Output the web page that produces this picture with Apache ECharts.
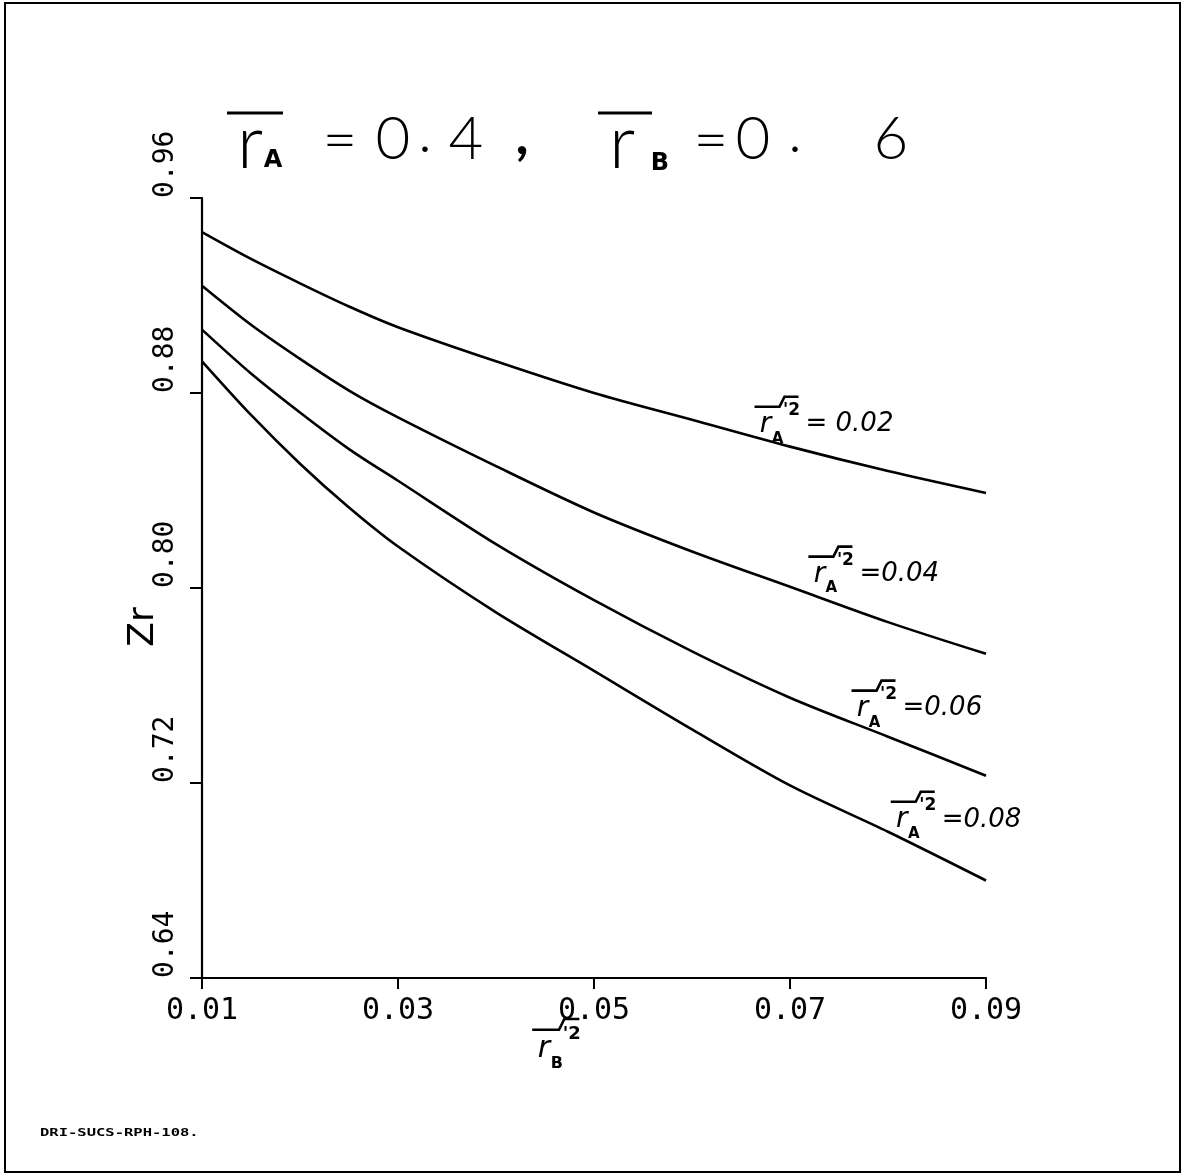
<!DOCTYPE html>
<html>
<head>
<meta charset="utf-8">
<script src="https://cdn.jsdelivr.net/npm/echarts@6/dist/echarts.min.js"></script>
<style>
  html, body { margin: 0; padding: 0; background: #fff; }
  #chart { width: 1185px; height: 1176px; }
</style>
</head>
<body>
<div id="chart"></div>
<script>
// mean-square fluctuation of phase B, r'_B^2 (x axis)
const rB2 = [0.01, 0.015, 0.02, 0.025, 0.03, 0.04, 0.05, 0.06, 0.07, 0.08, 0.09];

// Zr for each value of mean-square fluctuation of phase A
const zrA002 = [0.946, 0.935, 0.925, 0.9155, 0.907, 0.893, 0.880, 0.869, 0.858, 0.848, 0.839];
const zrA004 = [0.924, 0.908, 0.894, 0.881, 0.870, 0.850, 0.831, 0.815, 0.8005, 0.786, 0.773];
const zrA006 = [0.906, 0.888, 0.872, 0.857, 0.844, 0.818, 0.795, 0.774, 0.755, 0.739, 0.723];
const zrA008 = [0.893, 0.871, 0.851, 0.833, 0.817, 0.790, 0.766, 0.742, 0.719, 0.700, 0.680];

const curveValues = ['0.02', '0.04', '0.06', '0.08'];
const curveTexts = ['= 0.02', '=0.04', '=0.06', '=0.08'];

const xTicks = [0.01, 0.03, 0.05, 0.07, 0.09];
const yTicks = [0.64, 0.72, 0.80, 0.88, 0.96];

// where each curve label sits, in data coordinates (centre of the "r")
const labelAnchors = [[0.0675, 0.867], [0.0730, 0.8055], [0.0774, 0.7505], [0.0814, 0.7049]];

const chart = echarts.init(document.getElementById('chart'));

function toPairs(ys) { return rB2.map((x, i) => [x, ys[i]]); }

const lineStyle = { color: '#000', width: 2.6 };
const seriesData = [zrA002, zrA004, zrA006, zrA008];

chart.setOption({
  animation: false,
  backgroundColor: '#fff',
  grid: { left: 202, right: 199, top: 198, bottom: 198, containLabel: false },
  xAxis: {
    type: 'value', min: 0.01, max: 0.09,
    axisLine: { show: true, lineStyle: { color: '#000', width: 2.2 } },
    axisTick: { show: true, customValues: xTicks, length: 11, lineStyle: { color: '#000', width: 2 } },
    axisLabel: {
      customValues: xTicks, formatter: v => v.toFixed(2),
      fontFamily: 'DejaVu Sans Mono', fontSize: 30, color: '#000', margin: 18
    },
    splitLine: { show: false }
  },
  yAxis: {
    type: 'value', min: 0.64, max: 0.96,
    name: 'Zr', nameLocation: 'middle', nameRotate: 90, nameGap: 40,
    nameMoveOverlap: false,
    nameTextStyle: {
      color: '#000', fontFamily: 'DejaVu Sans', fontSize: 36, padding: [0, 78, 0, 0]
    },
    axisLine: { show: true, lineStyle: { color: '#000', width: 2.2 } },
    axisTick: { show: true, customValues: yTicks, length: 12, lineStyle: { color: '#000', width: 2 } },
    axisLabel: {
      customValues: yTicks, formatter: v => v.toFixed(2),
      rotate: 90, align: 'left', verticalAlign: 'middle',
      fontFamily: 'DejaVu Sans Mono', fontSize: 28, color: '#000', margin: 36
    },
    splitLine: { show: false }
  },
  series: seriesData.map((ys, i) => ({
    name: curveValues[i],
    type: 'line',
    data: toPairs(ys),
    smooth: 0.3,
    showSymbol: false,
    lineStyle: lineStyle
  }))
});

// r-bar notation: overline on r, a root stroke, and the '2 superscript
function rmsSymbol(cx, cy, sub, size) {
  const s = size / 28;
  return [
    { type: 'text', x: cx, y: cy, style: { text: 'r', font: 'italic ' + Math.round(28 * s) + 'px "DejaVu Sans"', fill: '#000', align: 'center', verticalAlign: 'middle' } },
    { type: 'text', x: cx + 12 * s, y: cy + 14 * s, style: { text: sub, font: 'bold ' + Math.round(15 * s) + 'px "DejaVu Sans"', fill: '#000', align: 'center', verticalAlign: 'middle' } },
    { type: 'polyline', shape: { points: [[cx - 11 * s, cy - 18 * s], [cx + 14 * s, cy - 18 * s], [cx + 19 * s, cy - 28 * s], [cx + 33 * s, cy - 28 * s]] }, style: { stroke: '#000', lineWidth: 2.6, fill: null } },
    { type: 'text', x: cx + 26 * s, y: cy - 14 * s, style: { text: "'2", font: 'bold ' + Math.round(17 * s) + 'px "DejaVu Sans"', fill: '#000', align: 'center', verticalAlign: 'middle' } }
  ];
}

function drawDecorations() {
  const g = [];
  // outer frame
  g.push({ type: 'rect', shape: { x: 5, y: 3, width: 1175, height: 1169 }, style: { fill: null, stroke: '#000', lineWidth: 2 }, z: 10 });

  // title: r̄A = 0.4,  r̄B = 0.6
  const big = '300 60px Lato, "DejaVu Sans"';
  const tt = (t, x, y, font) => ({ type: 'text', x, y, style: { text: t, font, fill: '#000', align: 'center', verticalAlign: 'middle' } });
  g.push({ type: 'line', shape: { x1: 227, y1: 113, x2: 283, y2: 113 }, style: { stroke: '#000', lineWidth: 3 } });
  g.push(tt('r', 250, 144, '300 74px Lato, "DejaVu Sans"'));
  g.push(tt('A', 273, 161, 'bold 24px "DejaVu Sans"'));
  g.push(tt('=', 340, 141, big));
  g.push(tt('0', 393, 140, big));
  g.push(tt('.', 425, 133, big));
  g.push(tt('4', 466, 140, big));
  g.push(tt(',', 522, 136, 'bold 56px Lato, "DejaVu Sans"'));
  g.push({ type: 'line', shape: { x1: 598, y1: 113, x2: 652, y2: 113 }, style: { stroke: '#000', lineWidth: 3 } });
  g.push(tt('r', 622, 144, '300 74px Lato, "DejaVu Sans"'));
  g.push(tt('B', 660, 164, 'bold 24px "DejaVu Sans"'));
  g.push(tt('=', 711, 141, big));
  g.push(tt('0', 753, 140, big));
  g.push(tt('.', 795, 133, big));
  g.push(tt('6', 891, 140, big));

  // curve labels
  labelAnchors.forEach((a, i) => {
    const p = chart.convertToPixel({ gridIndex: 0 }, a);
    rmsSymbol(p[0], p[1], 'A', 28).forEach(e => g.push(e));
    g.push({ type: 'text', x: p[0] + 40, y: p[1], style: { text: curveTexts[i], font: 'italic 26px "DejaVu Sans"', fill: '#000', align: 'left', verticalAlign: 'middle' } });
  });

  // x-axis name: r̄'²_B
  const mid = chart.convertToPixel({ gridIndex: 0 }, [0.05, 0.64]);
  rmsSymbol(mid[0] - 50, mid[1] + 71, 'B', 30).forEach(e => g.push(e));

  // drawing reference number
  g.push({ type: 'text', x: 40, y: 1133, scaleX: 1.55, style: { text: 'DRI-SUCS-RPH-108.', font: 'bold 10px "DejaVu Sans Mono"', fill: '#000', align: 'left', verticalAlign: 'middle' } });

  chart.setOption({ graphic: { elements: g } });
}

drawDecorations();
</script>
</body>
</html>
